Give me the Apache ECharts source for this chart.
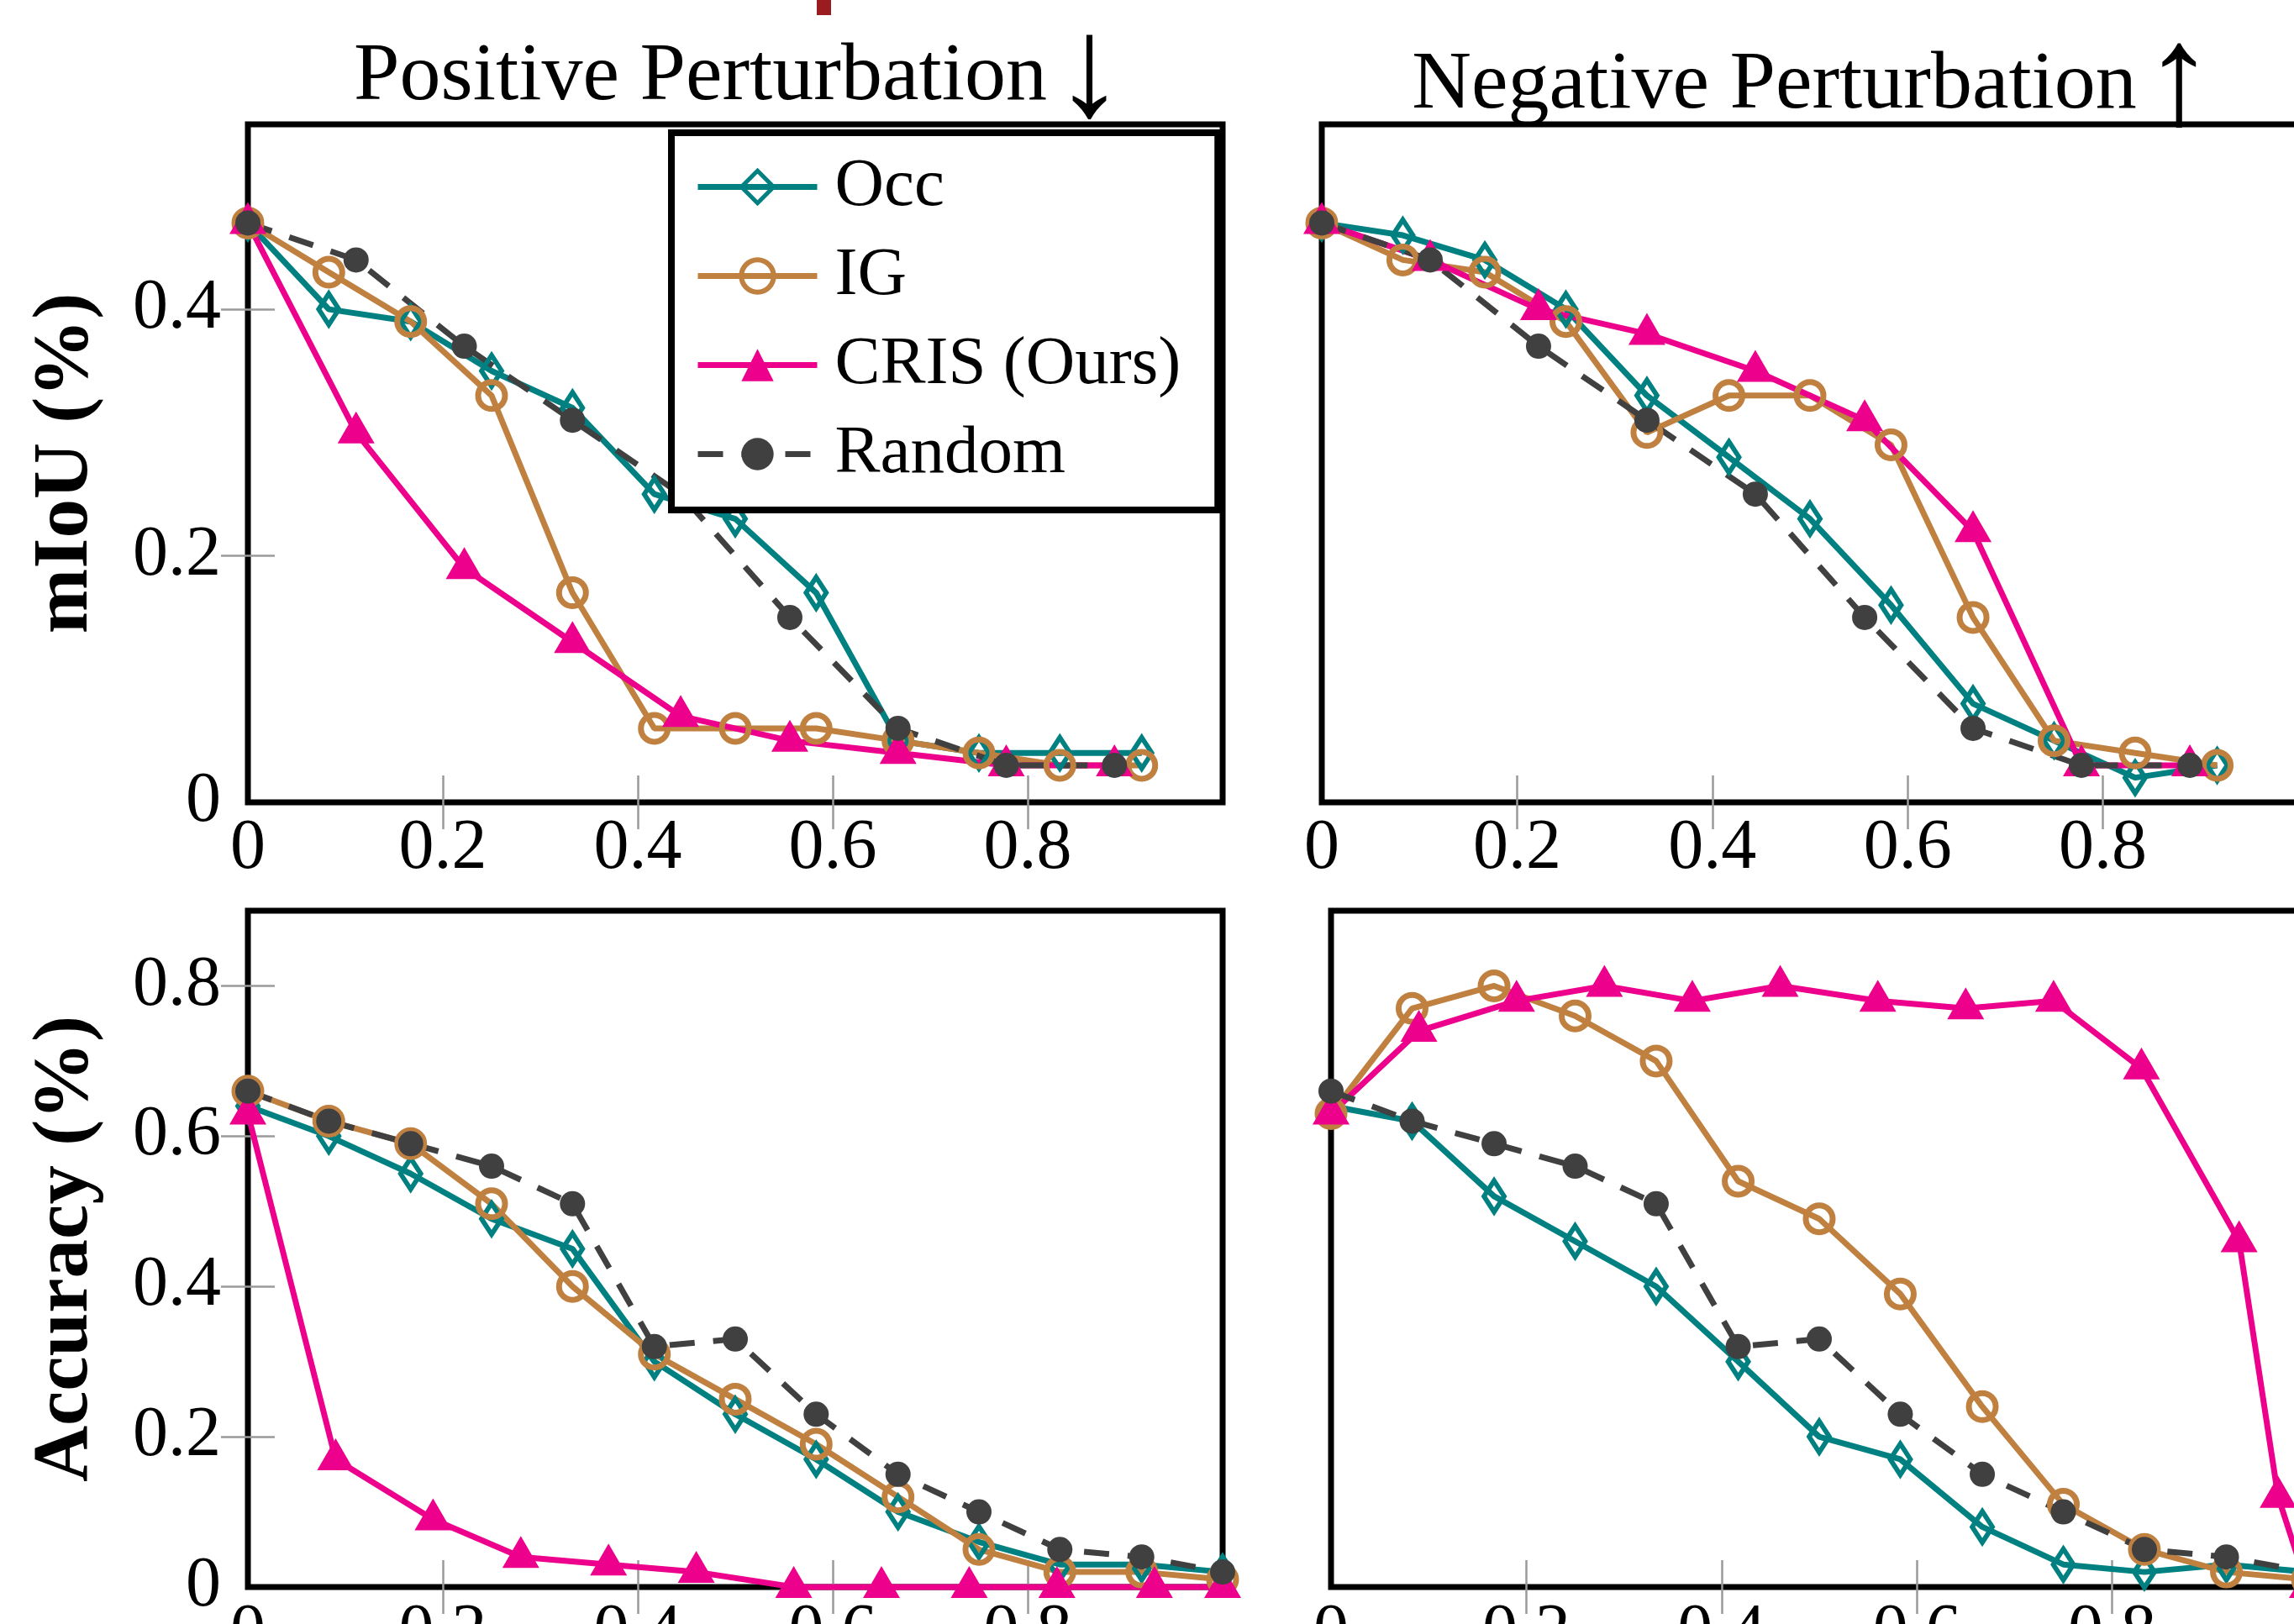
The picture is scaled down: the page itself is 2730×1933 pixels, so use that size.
<!DOCTYPE html>
<html>
<head>
<meta charset="utf-8">
<script src="https://cdn.jsdelivr.net/npm/echarts@6/dist/echarts.min.js"></script>
<style>
html, body { margin: 0; padding: 0; background: #fff; }
#main { width: 2730px; height: 1933px; }
</style>
</head>
<body>
<div id="main"></div>
<script>
// x positions (fraction perturbed)
var x12 = [0, 0.083, 0.167, 0.25, 0.333, 0.417, 0.5, 0.583, 0.667, 0.75, 0.833, 0.917, 1];
var x9 = [0, 0.111, 0.222, 0.333, 0.444, 0.556, 0.667, 0.778, 0.889];
var xCrisAccPos = [0, 0.09, 0.19, 0.28, 0.37, 0.46, 0.56, 0.65, 0.74, 0.83, 0.93, 1];
var xCrisAccNeg = [0, 0.09, 0.19, 0.28, 0.37, 0.46, 0.56, 0.65, 0.74, 0.83, 0.93, 0.97, 1];

// mIoU - positive perturbation
var miouPosOcc = [0.47, 0.40, 0.39, 0.35, 0.32, 0.25, 0.23, 0.17, 0.05, 0.04, 0.04, 0.04];
var miouPosIG = [0.47, 0.43, 0.39, 0.33, 0.17, 0.06, 0.06, 0.06, 0.05, 0.04, 0.03, 0.03];
var miouPosCris = [0.47, 0.30, 0.19, 0.13, 0.07, 0.05, 0.04, 0.03, 0.03];
var miouPosRandom = [0.47, 0.44, 0.37, 0.31, 0.25, 0.15, 0.06, 0.03, 0.03];

// mIoU - negative perturbation
var miouNegOcc = [0.47, 0.46, 0.44, 0.40, 0.33, 0.28, 0.23, 0.16, 0.08, 0.05, 0.02, 0.03];
var miouNegIG = [0.47, 0.44, 0.43, 0.39, 0.30, 0.33, 0.33, 0.29, 0.15, 0.05, 0.04, 0.03];
var miouNegCris = [0.47, 0.44, 0.40, 0.38, 0.35, 0.31, 0.22, 0.03, 0.03];
var miouNegRandom = [0.47, 0.44, 0.37, 0.31, 0.25, 0.15, 0.06, 0.03, 0.03];

// Accuracy - positive perturbation
var accPosOcc = [0.64, 0.60, 0.55, 0.49, 0.45, 0.30, 0.23, 0.17, 0.10, 0.06, 0.03, 0.03, 0.02];
var accPosIG = [0.66, 0.62, 0.59, 0.51, 0.40, 0.31, 0.25, 0.19, 0.12, 0.05, 0.02, 0.02, 0.01];
var accPosCris = [0.63, 0.17, 0.09, 0.04, 0.03, 0.02, 0, 0, 0, 0, 0, 0];
var accPosRandom = [0.66, 0.62, 0.59, 0.56, 0.51, 0.32, 0.33, 0.23, 0.15, 0.10, 0.05, 0.04, 0.02];

// Accuracy - negative perturbation
var accNegOcc = [0.64, 0.62, 0.52, 0.46, 0.40, 0.30, 0.20, 0.17, 0.08, 0.03, 0.02, 0.03, 0.02];
var accNegIG = [0.63, 0.77, 0.80, 0.76, 0.70, 0.54, 0.49, 0.39, 0.24, 0.11, 0.05, 0.02, 0.01];
var accNegCris = [0.63, 0.74, 0.78, 0.80, 0.78, 0.80, 0.78, 0.77, 0.78, 0.69, 0.46, 0.12, 0];
var accNegRandom = [0.66, 0.62, 0.59, 0.56, 0.51, 0.32, 0.33, 0.23, 0.15, 0.10, 0.05, 0.04, 0.02];

var names = ['Occ', 'IG', 'CRIS (Ours)', 'Random'];
var xTickLabels = [0, 0.2, 0.4, 0.6, 0.8];
var yTickLabelsTop = [0, 0.2, 0.4];
var yTickLabelsBottom = [0, 0.2, 0.4, 0.6, 0.8];

var serif = "'Liberation Serif', 'Times New Roman', serif";
var teal = '#008080', brown = '#BF8040', pink = '#EC008C', dark = '#404040';
var tickGray = '#9a9a9a';
var LW = 7;

function pairs(xs, ys) {
  var out = [];
  for (var i = 0; i < ys.length; i++) out.push([xs[i], ys[i]]);
  return out;
}

function mkSeries(name, xs, ys, g) {
  var s = {
    name: name, type: 'line', xAxisIndex: 2 * g, yAxisIndex: 2 * g,
    data: pairs(xs, ys), clip: false, animation: false,
    emphasis: { disabled: true }
  };
  if (name === 'Occ') {
    s.symbol = 'diamond'; s.symbolSize = [24, 37];
    s.lineStyle = { color: teal, width: LW };
    s.itemStyle = { color: 'rgba(255,255,255,0)', borderColor: teal, borderWidth: 6 };
  } else if (name === 'IG') {
    s.symbol = 'circle'; s.symbolSize = 32;
    s.lineStyle = { color: brown, width: LW };
    s.itemStyle = { color: 'rgba(255,255,255,0)', borderColor: brown, borderWidth: 7 };
  } else if (name === 'CRIS (Ours)') {
    s.symbol = 'triangle'; s.symbolSize = [44, 38]; s.symbolOffset = [0, -6];
    s.lineStyle = { color: pink, width: LW };
    s.itemStyle = { color: pink, borderWidth: 0 };
  } else {
    s.symbol = 'circle'; s.symbolSize = 30;
    s.lineStyle = { color: dark, width: LW, type: [30, 22] };
    s.itemStyle = { color: dark, borderWidth: 0 };
  }
  return s;
}

var grids = [
  { left: 295, top: 148, width: 1160, height: 807 },
  { left: 1573, top: 148, width: 1162, height: 807 },
  { left: 295, top: 1084, width: 1160, height: 805 },
  { left: 1584, top: 1084, width: 1162, height: 805 }
];

var xAxes = [], yAxes = [];
for (var g = 0; g < 4; g++) {
  var topRow = g < 2, leftCol = (g % 2 === 0);
  var ymax = topRow ? 0.55 : 0.9;
  var yLabels = topRow ? yTickLabelsTop : yTickLabelsBottom;
  var yTicks = leftCol ? yLabels.slice(1) : [];
  // bottom x axis (labels + ticks)
  xAxes.push({
    type: 'value', gridIndex: g, min: 0, max: 1, interval: 0.2, position: 'bottom',
    axisLine: { show: false }, splitLine: { show: false },
    axisTick: { show: true, inside: true, length: 32, customValues: [0.2, 0.4, 0.6, 0.8],
      lineStyle: { color: tickGray, width: 2.5 } },
    axisLabel: { show: true, customValues: xTickLabels, margin: 14,
      fontFamily: serif, fontSize: 84, color: '#000' }
  });
  // top x axis (ticks only)
  xAxes.push({
    type: 'value', gridIndex: g, min: 0, max: 1, interval: 0.2, position: 'top',
    axisLine: { show: false }, splitLine: { show: false },
    axisTick: { show: true, inside: true, length: 32, customValues: [0.2, 0.4, 0.6, 0.8],
      lineStyle: { color: tickGray, width: 2.5 } },
    axisLabel: { show: false }
  });
  var leftAxis = {
    type: 'value', gridIndex: g, min: 0, max: ymax, interval: 0.2, position: 'left',
    axisLine: { show: false }, splitLine: { show: false },
    axisTick: { show: yTicks.length > 0, inside: true, length: 32, customValues: yTicks,
      lineStyle: { color: tickGray, width: 2.5 } },
    axisLabel: { show: leftCol, customValues: yLabels, margin: 32,
      fontFamily: serif, fontSize: 84, color: '#000' }
  };
  if (leftCol) {
    leftAxis.name = topRow ? 'mIoU (%)' : 'Accuracy (%)';
    leftAxis.nameLocation = 'middle';
    leftAxis.nameRotate = 90;
    leftAxis.nameGap = 170;
    leftAxis.nameTextStyle = { fontFamily: serif, fontSize: 93, fontWeight: 'bold', color: '#000' };
  }
  yAxes.push(leftAxis);
  yAxes.push({
    type: 'value', gridIndex: g, min: 0, max: ymax, interval: 0.2, position: 'right',
    axisLine: { show: false }, splitLine: { show: false },
    axisTick: { show: yTicks.length > 0, inside: true, length: 32, customValues: yTicks,
      lineStyle: { color: tickGray, width: 2.5 } },
    axisLabel: { show: false }
  });
}

var series = [
  mkSeries('Occ', x12, miouPosOcc, 0),
  mkSeries('IG', x12, miouPosIG, 0),
  mkSeries('CRIS (Ours)', x9, miouPosCris, 0),
  mkSeries('Random', x9, miouPosRandom, 0),
  mkSeries('Occ', x12, miouNegOcc, 1),
  mkSeries('IG', x12, miouNegIG, 1),
  mkSeries('CRIS (Ours)', x9, miouNegCris, 1),
  mkSeries('Random', x9, miouNegRandom, 1),
  mkSeries('Occ', x12, accPosOcc, 2),
  mkSeries('IG', x12, accPosIG, 2),
  mkSeries('CRIS (Ours)', xCrisAccPos, accPosCris, 2),
  mkSeries('Random', x12, accPosRandom, 2),
  mkSeries('Occ', x12, accNegOcc, 3),
  mkSeries('IG', x12, accNegIG, 3),
  mkSeries('CRIS (Ours)', xCrisAccNeg, accNegCris, 3),
  mkSeries('Random', x12, accNegRandom, 3)
];

var titleStyle = {
  fontFamily: serif, fontSize: 98, fontWeight: 'normal', color: '#000',
  rich: {
    t: { fontFamily: serif, fontSize: 98, color: '#000' },
    a: { fontFamily: serif, fontSize: 170, color: '#000', padding: [0, 0, 0, 8] }
  }
};

var myChart = echarts.init(document.getElementById('main'), null, { renderer: 'canvas' });
var option = {
  animation: false,
  backgroundColor: '#fff',
  title: [{
    text: '{t|Positive Perturbation}{a|\u2193}', left: 880, top: 92,
    textAlign: 'center', textVerticalAlign: 'middle', padding: 0,
    textStyle: titleStyle
  }, {
    text: '{t|Negative Perturbation}{a|\u2191}', left: 2158, top: 102,
    textAlign: 'center', textVerticalAlign: 'middle', padding: 0,
    textStyle: titleStyle
  }],
  legend: {
    data: [
      { name: 'Occ', itemStyle: { borderWidth: 5 }, lineStyle: { width: LW } },
      { name: 'IG', itemStyle: { borderWidth: 6 }, lineStyle: { width: LW } },
      { name: 'CRIS (Ours)', lineStyle: { width: LW } },
      { name: 'Random', lineStyle: { width: LW } }
    ],
    orient: 'vertical', left: 799, top: 158,
    itemWidth: 142, itemHeight: 48, itemGap: 25,
    padding: [24, 44, 26, 28],
    borderColor: '#000', borderWidth: 8, backgroundColor: '#fff',
    selectedMode: false, z: 10,
    textStyle: { fontFamily: serif, fontSize: 81, color: '#000', padding: [0, 0, 0, 16] }
  },
  grid: grids.map(function (r) {
    return { left: r.left, top: r.top, width: r.width, height: r.height,
      outerBoundsMode: 'none', containLabel: false,
      show: true, borderColor: '#000', borderWidth: 7, backgroundColor: 'rgba(0,0,0,0)' };
  }),
  xAxis: xAxes,
  yAxis: yAxes,
  series: series,
  graphic: [{
    type: 'rect', left: 972, top: 0, shape: { width: 17, height: 18 },
    style: { fill: '#9b1c20' }
  }]
};
myChart.setOption(option);
</script>
</body>
</html>
